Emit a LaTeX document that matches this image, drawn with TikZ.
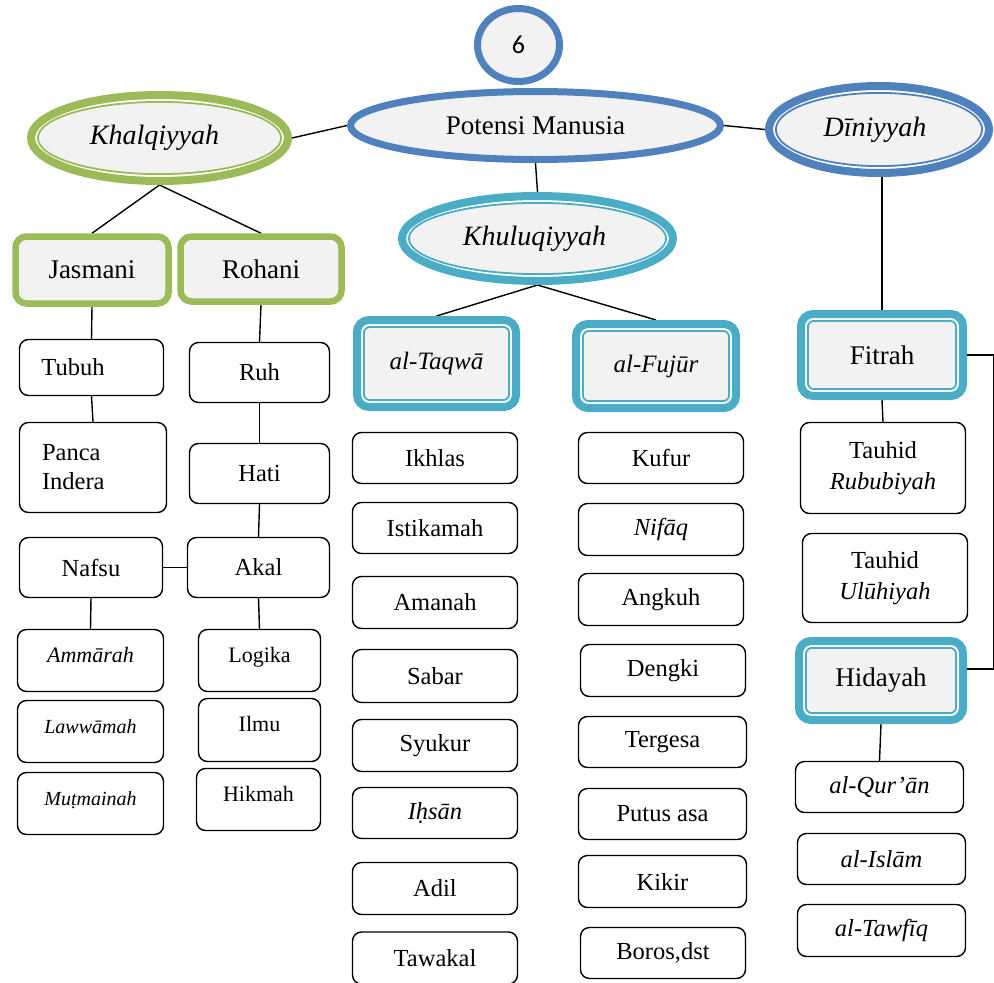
\documentclass[tikz,border=0pt]{standalone}
\usepackage{fontspec}
\setmainfont{Liberation Serif}
\newfontfamily\numfont{Carlito}
\usetikzlibrary{shapes.geometric,calc}
\definecolor{leaf}{HTML}{9BBB59}
\definecolor{steel}{HTML}{4F81BD}
\definecolor{aqua}{HTML}{4BACC6}
\definecolor{panel}{HTML}{F2F2F2}
\pgfdeclarelayer{paper}
\pgfdeclarelayer{background}
\pgfsetlayers{paper,background,main}
\newcommand\fsz[2]{\fontsize{#1}{#2}\selectfont}

\tikzset{
  sz/.style 2 args={minimum width=#1, minimum height=#2},
  link/.style={draw=black, line width=1.4pt},
  plain/.style={draw=black, line width=1.4pt, rounded corners=9pt, fill=white,
    inner sep=0pt, align=center, font=\fsz{24.5}{31}},
  small/.style={font=\fsz{22}{27}},
  smaller/.style={font=\fsz{20}{25}},
  raised/.style={text height=15pt, text depth=12pt},
  solidell/.style={ellipse, draw=steel, line width=7pt, fill=panel, inner sep=0pt},
  greenbox/.style={draw=leaf, line width=6.5pt, rounded corners=11pt, fill=panel,
    inner sep=0pt, font=\fsz{27}{32}},
  ringell/.style={ellipse, draw=#1, line width=8pt, fill=panel, inner sep=0pt,
    font=\fsz{28}{33}\itshape,
    path picture={
      \draw[white, line width=2pt]
        let \p1=(path picture bounding box.north east),
            \p2=(path picture bounding box.center) in
        (\p2) ellipse [x radius=\x1-\x2-5pt, y radius=\y1-\y2-5pt];
      \draw[#1, line width=1.8pt]
        let \p1=(path picture bounding box.north east),
            \p2=(path picture bounding box.center) in
        (\p2) ellipse [x radius=\x1-\x2-6.9pt, y radius=\y1-\y2-6.9pt];
    }},
  ringbox/.style={draw=#1, line width=8pt, rounded corners=12pt, fill=panel,
    inner sep=0pt, font=\fsz{27}{32},
    path picture={
      \draw[white, line width=2pt, rounded corners=8pt]
        ([shift={(5pt,5pt)}]path picture bounding box.south west) rectangle
        ([shift={(-5pt,-5pt)}]path picture bounding box.north east);
      \draw[#1, line width=1.8pt, rounded corners=6pt]
        ([shift={(6.9pt,6.9pt)}]path picture bounding box.south west) rectangle
        ([shift={(-6.9pt,-6.9pt)}]path picture bounding box.north east);
    }},
}

\begin{document}
\begin{tikzpicture}[x=1pt, y=1pt]
\useasboundingbox (0,0) rectangle (994,-983);
\begin{pgfonlayer}{paper}
\fill[white] (0,0) rectangle (994,-983);
\end{pgfonlayer}

% top level
\node[solidell, sz={82}{73}, font=\numfont\fsz{26}{30}] (six) at (518.5,-45) {6};
\node[solidell, sz={370}{68}, font=\fsz{27}{32}] (potensi) at (535.5,-125.5) {Potensi Manusia};
\node[ringell=leaf, sz={257}{86}] (khalq) at (159.5,-138) {Khalqiyyah\hspace*{10pt}};
\node[ringell=steel, sz={220}{87}] (dini) at (879,-129.5) {Dīniyyah\hspace*{8pt}};
\node[ringell=aqua, sz={271}{85}] (khuluq) at (537.5,-238.5) {Khuluqiyyah\hspace*{6pt}};

% second level
\node[greenbox, sz={153}{67}] (jas) at (92,-270) {Jasmani};
\node[greenbox, sz={161}{65}] (roh) at (261,-269) {Rohani};
\node[ringbox=aqua, sz={159}{87}, font=\fsz{25}{30}\itshape] (taqwa) at (436.5,-363.5) {al-Taqwā};
\node[ringbox=aqua, sz={160}{84}, font=\fsz{25}{30}\itshape] (fujur) at (656,-366) {al-Fujūr};
\node[ringbox=aqua, sz={162}{82}] (fitrah) at (882,-355) {Fitrah};
\node[ringbox=aqua, sz={164}{79}] (hidayah) at (881,-680.5) {Hidayah};

% Jasmani branch
\node[plain, sz={144}{56}, text width=100pt, align=left] (tubuh) at (91.5,-367.5) {Tubuh};
\node[plain, sz={147}{90}, text width=102pt, align=left, font=\fsz{24.5}{29}] (panca) at (93,-467.5) {Panca\\Indera};
\node[plain, sz={143}{60}] (nafsu) at (91,-567.5) {Nafsu};
\node[plain, sz={146}{62}, small, raised] (ammarah) at (90.5,-660.5) {\itshape Ammārah};
\node[plain, sz={146}{62}, smaller, raised] (lawwamah) at (90.5,-731.5) {\itshape Lawwāmah};
\node[plain, sz={146}{62}, smaller, raised] (mutmainah) at (90.5,-803.5) {\itshape Muṭmainah};

% Rohani branch
\node[plain, sz={140}{60}] (ruh) at (259.5,-372.5) {Ruh};
\node[plain, sz={140}{60}] (hati) at (259.5,-473.5) {Hati};
\node[plain, sz={142}{60}] (akal) at (258.5,-567.5) {Akal};
\node[plain, sz={122}{62}, small, raised] (logika) at (259.5,-660.5) {Logika};
\node[plain, sz={122}{63}, small, raised] (ilmu) at (259.5,-730) {Ilmu};
\node[plain, sz={124}{62}, small, raised] (hikmah) at (258.5,-799.5) {Hikmah};

% al-Taqwa column
\node[plain, sz={165}{51}] (ikhlas) at (435,-458) {Ikhlas};
\node[plain, sz={165}{51}] (istikamah) at (435,-528) {Istikamah};
\node[plain, sz={165}{52}] (amanah) at (435,-602.5) {Amanah};
\node[plain, sz={165}{53}] (sabar) at (435,-676) {Sabar};
\node[plain, sz={165}{52}] (syukur) at (435,-745.5) {Syukur};
\node[plain, sz={165}{51}] (ihsan) at (435,-813) {\itshape Iḥsān};
\node[plain, sz={165}{52}] (adil) at (435,-888.5) {Adil};
\node[plain, sz={165}{52}] (tawakal) at (435,-958) {Tawakal};

% al-Fujur column
\node[plain, sz={165}{51}] (kufur) at (661,-458) {Kufur};
\node[plain, sz={165}{52}] (nifaq) at (661,-529.5) {\itshape Nifāq};
\node[plain, sz={165}{52}] (angkuh) at (661,-599.5) {Angkuh};
\node[plain, sz={165}{52}] (dengki) at (663,-670.5) {Dengki};
\node[plain, sz={168}{51}] (tergesa) at (662.5,-742) {Tergesa};
\node[plain, sz={168}{51}] (putus) at (662.5,-814) {Putus asa};
\node[plain, sz={168}{52}] (kikir) at (662.5,-881.5) {Kikir};
\node[plain, sz={165}{51}] (boros) at (663,-953) {Boros,dst};

% Diniyyah branch
\node[plain, sz={165}{91}] (rububiyah) at (883,-468) {Tauhid\\\itshape Rububiyah};
\node[plain, sz={165}{89}] (uluhiyah) at (885,-578) {Tauhid\\\itshape Ulūhiyah};
\node[plain, sz={168}{51}] (quran) at (879.5,-787) {\itshape al-Qur’ān};
\node[plain, sz={168}{51}] (islam) at (881.5,-859) {\itshape al-Islām};
\node[plain, sz={168}{52}] (tawfiq) at (881.5,-930.5) {\itshape al-Tawfīq};

% connectors, kept behind the shapes
\begin{pgfonlayer}{background}
\draw[link] (khalq.east) -- (potensi.west);
\draw[link] (potensi.east) -- (dini.west);
\draw[link] (potensi.south) -- (khuluq.north);
\draw[link] (jas.north) -- (khalq.south) -- (roh.north);
\draw[link] (taqwa.north) -- (khuluq.south) -- (fujur.north);
\draw[link] (fitrah.north) -- (fitrah.north |- dini.south);
\draw[link] (jas.south) -- (tubuh.north);
\draw[link] (tubuh.south) -- (panca.north);
\draw[link] (roh.south) -- (ruh.north);
\draw[link] (ruh.south) -- (hati.north);
\draw[link] (hati.south) -- (akal.north);
\draw[link] (nafsu.east) -- (akal.west);
\draw[link] (nafsu.south) -- (ammarah.north);
\draw[link] (akal.south) -- (logika.north);
\draw[link] (fitrah.south) -- (rububiyah.north);
\draw[link] (fitrah.east) -- ++(26.5,0) |- ([yshift=11.5pt]hidayah.east);
\draw[link] (hidayah.south) -- (quran.north);
\end{pgfonlayer}
\end{tikzpicture}
\end{document}
